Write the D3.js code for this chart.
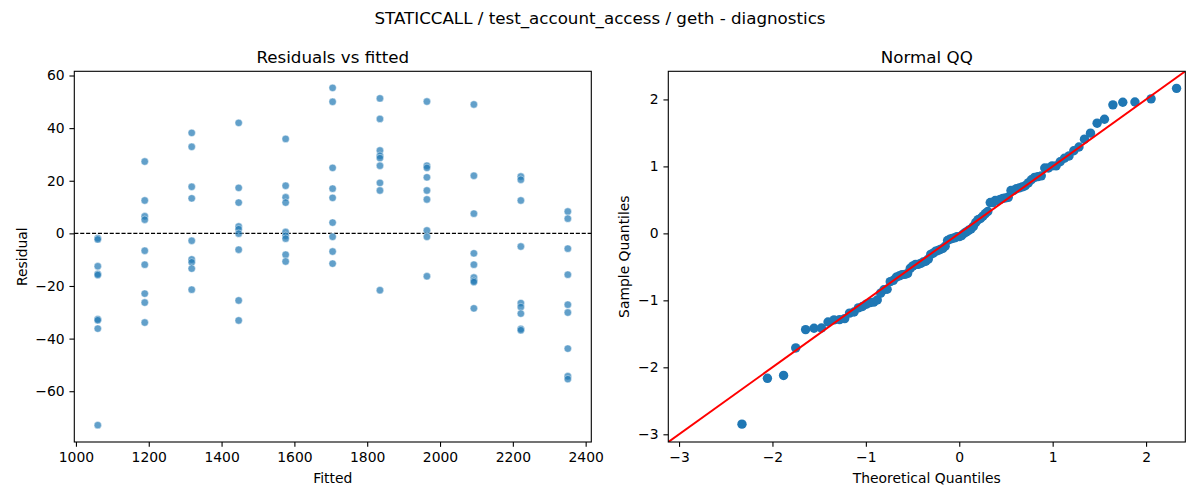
<!DOCTYPE html>
<html><head><meta charset="utf-8">
<script src="https://cdn.jsdelivr.net/npm/d3@7"></script>
<style>
html,body{margin:0;padding:0;background:#fff;}
text{font-family:"DejaVu Sans",sans-serif;fill:#000;}
</style></head>
<body><svg id="c" width="1200" height="500"></svg>
<script>
// ---- data ----
const fitted = [1060, 1189, 1318, 1447, 1576, 1705, 1835, 1964, 2093, 2222, 2351];
const residuals = [
  [-1.8, -2.3, -12.5, -15.4, -15.8, -32.6, -33.0, -36.2, -72.9],
  [27.3, 12.5, 6.5, 5.2, -6.6, -11.9, -22.9, -26.3, -33.9],
  [38.2, 32.9, 17.7, 13.3, -2.8, -9.9, -11.0, -13.4, -21.4],
  [42.0, 17.3, 11.7, 2.6, 1.6, -0.1, -6.2, -25.5, -33.1],
  [35.9, 18.1, 13.7, 11.7, 0.5, -0.9, -2.0, -8.1, -10.7],
  [55.3, 50.0, 24.9, 17.0, 13.5, 4.1, -1.3, -6.9, -11.5],
  [51.3, 43.5, 31.5, 29.5, 28.6, 25.7, 19.2, 16.3, -21.6],
  [50.1, 25.7, 24.9, 21.3, 16.3, 12.9, 1.1, -1.3, -16.3],
  [49.0, 21.9, 7.5, -7.6, -11.9, -16.8, -18.0, -18.5, -28.5],
  [21.6, 20.4, 12.5, -5.0, -26.5, -28.0, -30.5, -36.3, -36.8],
  [8.3, 5.6, -5.8, -15.7, -27.1, -30.1, -43.8, -54.3, -55.4]
];
const fittedTicks = [1000, 1200, 1400, 1600, 1800, 2000, 2200, 2400];
const residTicks = [-60, -40, -20, 0, 20, 40, 60];
const qqTicks = [-3, -2, -1, 0, 1, 2];
const qqLimits = [-3.115, 2.42];
const residLimits = [-79.3, 61.6];
const fittedLimits = [995.5, 2415.5];

// ---- helpers ----
function normInv(p){
  const a=[-3.969683028665376e+01,2.209460984245205e+02,-2.759285104469687e+02,1.383577518672690e+02,-3.066479806614716e+01,2.506628277459239e+00];
  const b=[-5.447609879822406e+01,1.615858368580409e+02,-1.556989798598866e+02,6.680131188771972e+01,-1.328068155288572e+01];
  const c=[-7.784894002430293e-03,-3.223964580411365e-01,-2.400758277161838e+00,-2.549732539343734e+00,4.374664141464968e+00,2.938163982698783e+00];
  const d=[7.784695709041462e-03,3.224671290700398e-01,2.445134137142996e+00,3.754408661907416e+00];
  const pl=0.02425, ph=1-pl; let q,r;
  if(p<pl){q=Math.sqrt(-2*Math.log(p));return (((((c[0]*q+c[1])*q+c[2])*q+c[3])*q+c[4])*q+c[5])/((((d[0]*q+d[1])*q+d[2])*q+d[3])*q+1);}
  if(p<=ph){q=p-0.5;r=q*q;return (((((a[0]*r+a[1])*r+a[2])*r+a[3])*r+a[4])*r+a[5])*q/(((((b[0]*r+b[1])*r+b[2])*r+b[3])*r+b[4])*r+1);}
  q=Math.sqrt(-2*Math.log(1-p));return -(((((c[0]*q+c[1])*q+c[2])*q+c[3])*q+c[4])*q+c[5])/((((d[0]*q+d[1])*q+d[2])*q+d[3])*q+1);
}

const svg = d3.select("#c");
const FS = 13.9, TFS = 16.7;
const plotTop = 71.3, plotBottom = 442;
const L = {x0:74.3, x1:591.3}, R = {x0:668.3, x1:1185.3};

svg.append("text").attr("x",600).attr("y",24).attr("text-anchor","middle")
  .style("font-size",TFS+"px").text("STATICCALL / test_account_access / geth - diagnostics");

function axes(g, x, y, xt, yt, box){
  const tl = 4.86, pad = 4.86;
  const gx = g.append("g").attr("transform",`translate(0,${plotBottom})`)
    .call(d3.axisBottom(x).tickValues(xt).tickSize(tl).tickPadding(pad).tickFormat(d3.format("d")));
  const gy = g.append("g").attr("transform",`translate(${box.x0},0)`)
    .call(d3.axisLeft(y).tickValues(yt).tickSize(tl).tickPadding(pad).tickFormat(d3.format("d")));
  [gx,gy].forEach(a=>{
    a.select(".domain").remove();
    a.selectAll("line").attr("stroke","#000").attr("stroke-width",1.1);
    a.selectAll("text").style("font-size",FS+"px").style("font-family","DejaVu Sans");
  });
  g.append("rect").attr("x",box.x0).attr("y",plotTop).attr("width",box.x1-box.x0).attr("height",plotBottom-plotTop)
    .attr("fill","none").attr("stroke","#000").attr("stroke-width",1.1);
}

// ---- left: residuals vs fitted ----
const xL = d3.scaleLinear().domain(fittedLimits).range([L.x0, L.x1]);
const yL = d3.scaleLinear().domain(residLimits).range([plotBottom, plotTop]);
const gL = svg.append("g");
const pts = [];
fitted.forEach((f,i)=>residuals[i].forEach(r=>pts.push({f, r})));
gL.append("line").attr("x1",L.x0).attr("x2",L.x1).attr("y1",yL(0)).attr("y2",yL(0))
  .attr("stroke","#000").attr("stroke-width",1.1).attr("stroke-dasharray","4.1,1.8");
gL.selectAll("circle").data(pts).join("circle")
  .attr("cx",d=>xL(d.f)).attr("cy",d=>yL(d.r)).attr("r",3.7)
  .attr("fill","#1f77b4").attr("fill-opacity",0.7)
  .attr("stroke","#fff").attr("stroke-width",0.6).attr("stroke-opacity",0.7);
axes(gL, xL, yL, fittedTicks, residTicks, L);
gL.append("text").attr("x",(L.x0+L.x1)/2).attr("y",63).attr("text-anchor","middle").style("font-size",TFS+"px").text("Residuals vs fitted");
gL.append("text").attr("x",(L.x0+L.x1)/2).attr("y",483).attr("text-anchor","middle").style("font-size",FS+"px").text("Fitted");
gL.append("text").attr("transform",`translate(27,${(plotTop+plotBottom)/2}) rotate(-90)`).attr("text-anchor","middle").style("font-size",FS+"px").text("Residual");

// ---- right: normal QQ ----
const all = pts.map(p=>p.r);
const mu = d3.mean(all);
const sd = Math.sqrt(d3.mean(all, v=>(v-mu)*(v-mu)));
const sample = all.map(v=>(v-mu)/sd).sort(d3.ascending);
const n = sample.length;
const qq = sample.map((s,i)=>({t: normInv((i+1)/(n+1)), s}));
const xR = d3.scaleLinear().domain(qqLimits).range([R.x0, R.x1]);
const yR = d3.scaleLinear().domain(qqLimits).range([plotBottom, plotTop]);
const gR = svg.append("g");
svg.append("clipPath").attr("id","cr").append("rect")
  .attr("x",R.x0).attr("y",plotTop).attr("width",R.x1-R.x0).attr("height",plotBottom-plotTop);
gR.selectAll("circle").data(qq).join("circle")
  .attr("cx",d=>xR(d.t)).attr("cy",d=>yR(d.s)).attr("r",4.7)
  .attr("fill","#1f77b4");
gR.append("line").attr("clip-path","url(#cr)")
  .attr("x1",xR(qqLimits[0])).attr("y1",yR(qqLimits[0])).attr("x2",xR(qqLimits[1])).attr("y2",yR(qqLimits[1]))
  .attr("stroke","#ff0000").attr("stroke-width",2);
axes(gR, xR, yR, qqTicks, qqTicks, R);
gR.append("text").attr("x",(R.x0+R.x1)/2).attr("y",63).attr("text-anchor","middle").style("font-size",TFS+"px").text("Normal QQ");
gR.append("text").attr("x",(R.x0+R.x1)/2).attr("y",483).attr("text-anchor","middle").style("font-size",FS+"px").text("Theoretical Quantiles");
gR.append("text").attr("transform",`translate(629,${(plotTop+plotBottom)/2}) rotate(-90)`).attr("text-anchor","middle").style("font-size",FS+"px").text("Sample Quantiles");
</script></body></html>
